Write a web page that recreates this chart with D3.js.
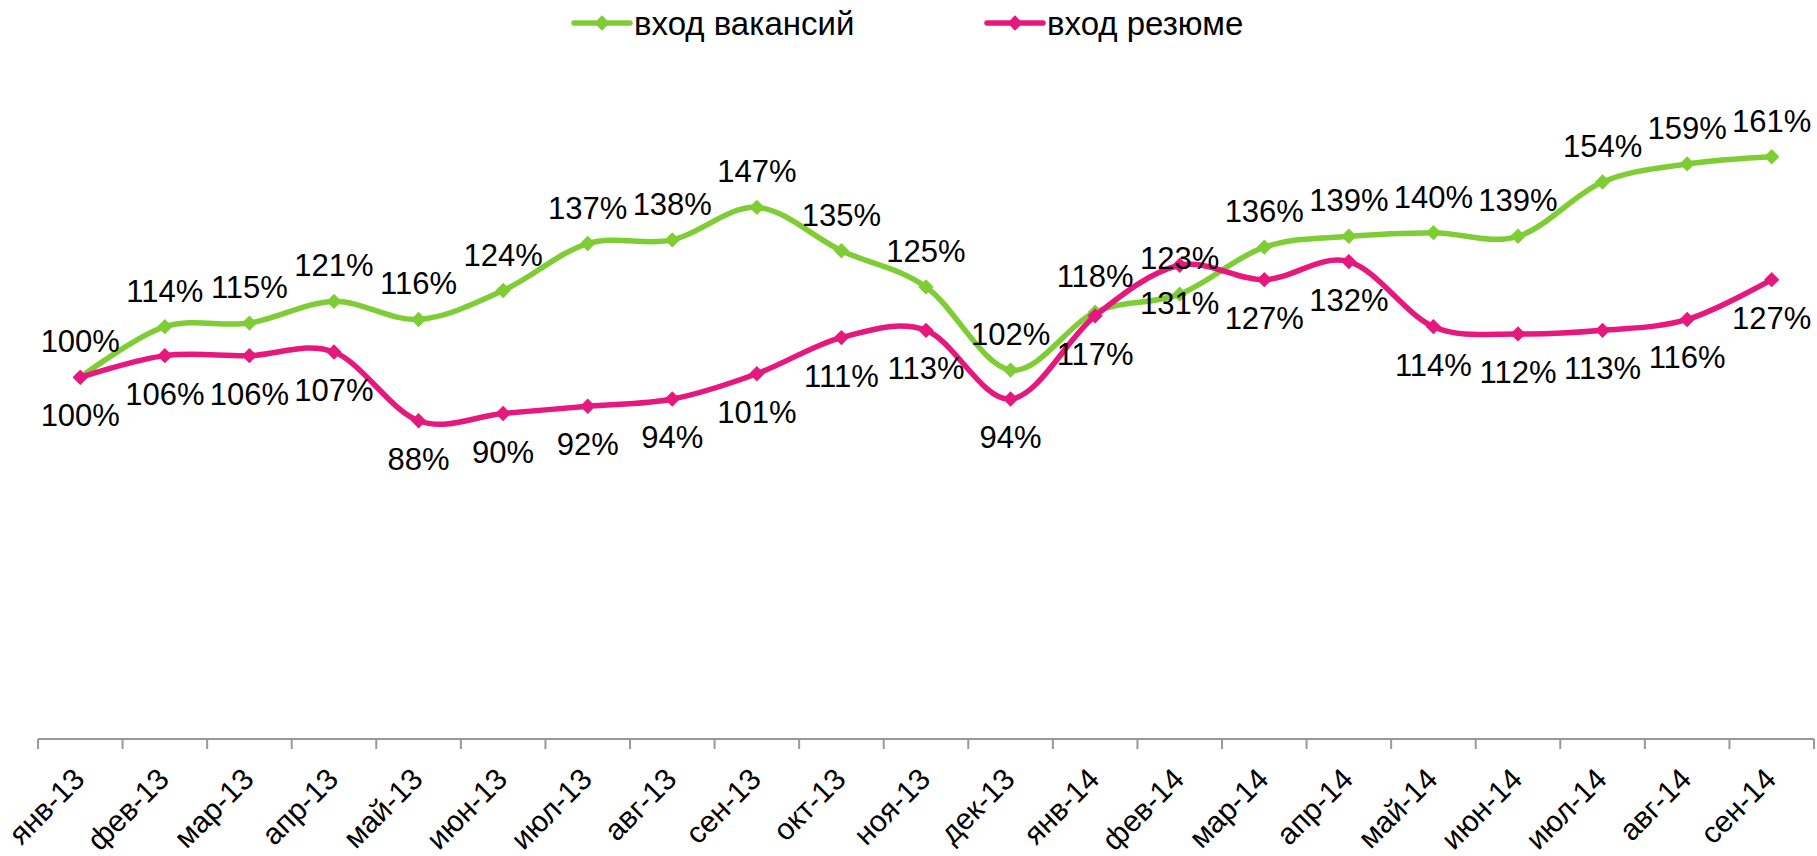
<!DOCTYPE html>
<html>
<head>
<meta charset="utf-8">
<script src="https://cdn.jsdelivr.net/npm/d3@7"></script>
<style>
  body { margin: 0; background: #fff; }
  text { font-family: "Liberation Sans", Arial, sans-serif; fill: #000; }
</style>
</head>
<body>
<svg id="chart"></svg>
<script>
// months on the x axis
const months = ['янв-13', 'фев-13', 'мар-13', 'апр-13', 'май-13', 'июн-13', 'июл-13',
  'авг-13', 'сен-13', 'окт-13', 'ноя-13', 'дек-13', 'янв-14', 'фев-14', 'мар-14',
  'апр-14', 'май-14', 'июн-14', 'июл-14', 'авг-14', 'сен-14'];

// index, % of january 2013
const vacancies = [100, 114, 115, 121, 116, 124, 137, 138, 147, 135, 125, 102, 118, 123,
  136, 139, 140, 139, 154, 159, 161];
const resumes = [100, 106, 106, 107, 88, 90, 92, 94, 101, 111, 113, 94, 117, 131,
  127, 132, 114, 112, 113, 116, 127];

const seriesNames = ['вход вакансий', 'вход резюме'];

const width = 1817, height = 856;
const colors = ['#7fcd34', '#e6177d'];

const svg = d3.select('#chart')
  .attr('width', width)
  .attr('height', height);

const x = d3.scaleBand()
  .domain(months)
  .range([38, 1814]);

const y = d3.scaleLinear()
  .domain([0, 180])
  .range([739, 88]);

const cx = d => x(d) + x.bandwidth() / 2;

// x axis, ticks between categories
const axis = svg.append('g').attr('class', 'axis');

axis.append('line')
  .attr('x1', x.range()[0]).attr('x2', x.range()[1])
  .attr('y1', y(0)).attr('y2', y(0))
  .attr('stroke', '#999').attr('stroke-width', 2);

axis.selectAll('line.tick')
  .data(d3.range(months.length + 1))
  .join('line')
  .attr('class', 'tick')
  .attr('x1', i => x.range()[0] + i * x.step())
  .attr('x2', i => x.range()[0] + i * x.step())
  .attr('y1', y(0)).attr('y2', y(0) + 10)
  .attr('stroke', '#999').attr('stroke-width', 2);

axis.selectAll('text')
  .data(months)
  .join('text')
  .attr('transform', d => `translate(${cx(d) + 6},${y(0) + 42}) rotate(-45)`)
  .attr('text-anchor', 'end')
  .style('font-size', '30px')
  .text(d => d);

// smoothed lines like excel
const line = d3.line()
  .x((d, i) => cx(months[i]))
  .y(d => y(d))
  .curve(d3.curveCardinal.tension(0));

const diamond = d3.symbol().type(d3.symbolDiamond2).size(150);

const series = [vacancies, resumes];

series.forEach((values, s) => {
  const g = svg.append('g').attr('class', 'series');

  g.append('path')
    .datum(values)
    .attr('d', line)
    .attr('fill', 'none')
    .attr('stroke', colors[s])
    .attr('stroke-width', 5.5);

  g.selectAll('path.marker')
    .data(values)
    .join('path')
    .attr('class', 'marker')
    .attr('d', diamond)
    .attr('transform', (d, i) => `translate(${cx(months[i])},${y(d)})`)
    .attr('fill', colors[s]);
});

// data labels: vacancies above, resumes below
series.forEach((values, s) => {
  svg.append('g').selectAll('text')
    .data(values)
    .join('text')
    .attr('x', (d, i) => cx(months[i]))
    .attr('y', d => s === 0 ? y(d) - 25 : y(d) + 49)
    .attr('text-anchor', 'middle')
    .style('font-size', '31px')
    .text(d => d + '%');
});

// legend
const legendX = [574, 987];
const legend = svg.append('g').attr('class', 'legend');

seriesNames.forEach((name, s) => {
  legend.append('line')
    .attr('x1', legendX[s]).attr('x2', legendX[s] + 56)
    .attr('y1', 23).attr('y2', 23)
    .attr('stroke', colors[s])
    .attr('stroke-width', 5.5)
    .attr('stroke-linecap', 'round');

  legend.append('path')
    .attr('d', diamond)
    .attr('transform', `translate(${legendX[s] + 28},23)`)
    .attr('fill', colors[s]);

  legend.append('text')
    .attr('x', legendX[s] + 60)
    .attr('y', 23)
    .attr('dy', '0.35em')
    .style('font-size', '33px')
    .text(name);
});
</script>
</body>
</html>
